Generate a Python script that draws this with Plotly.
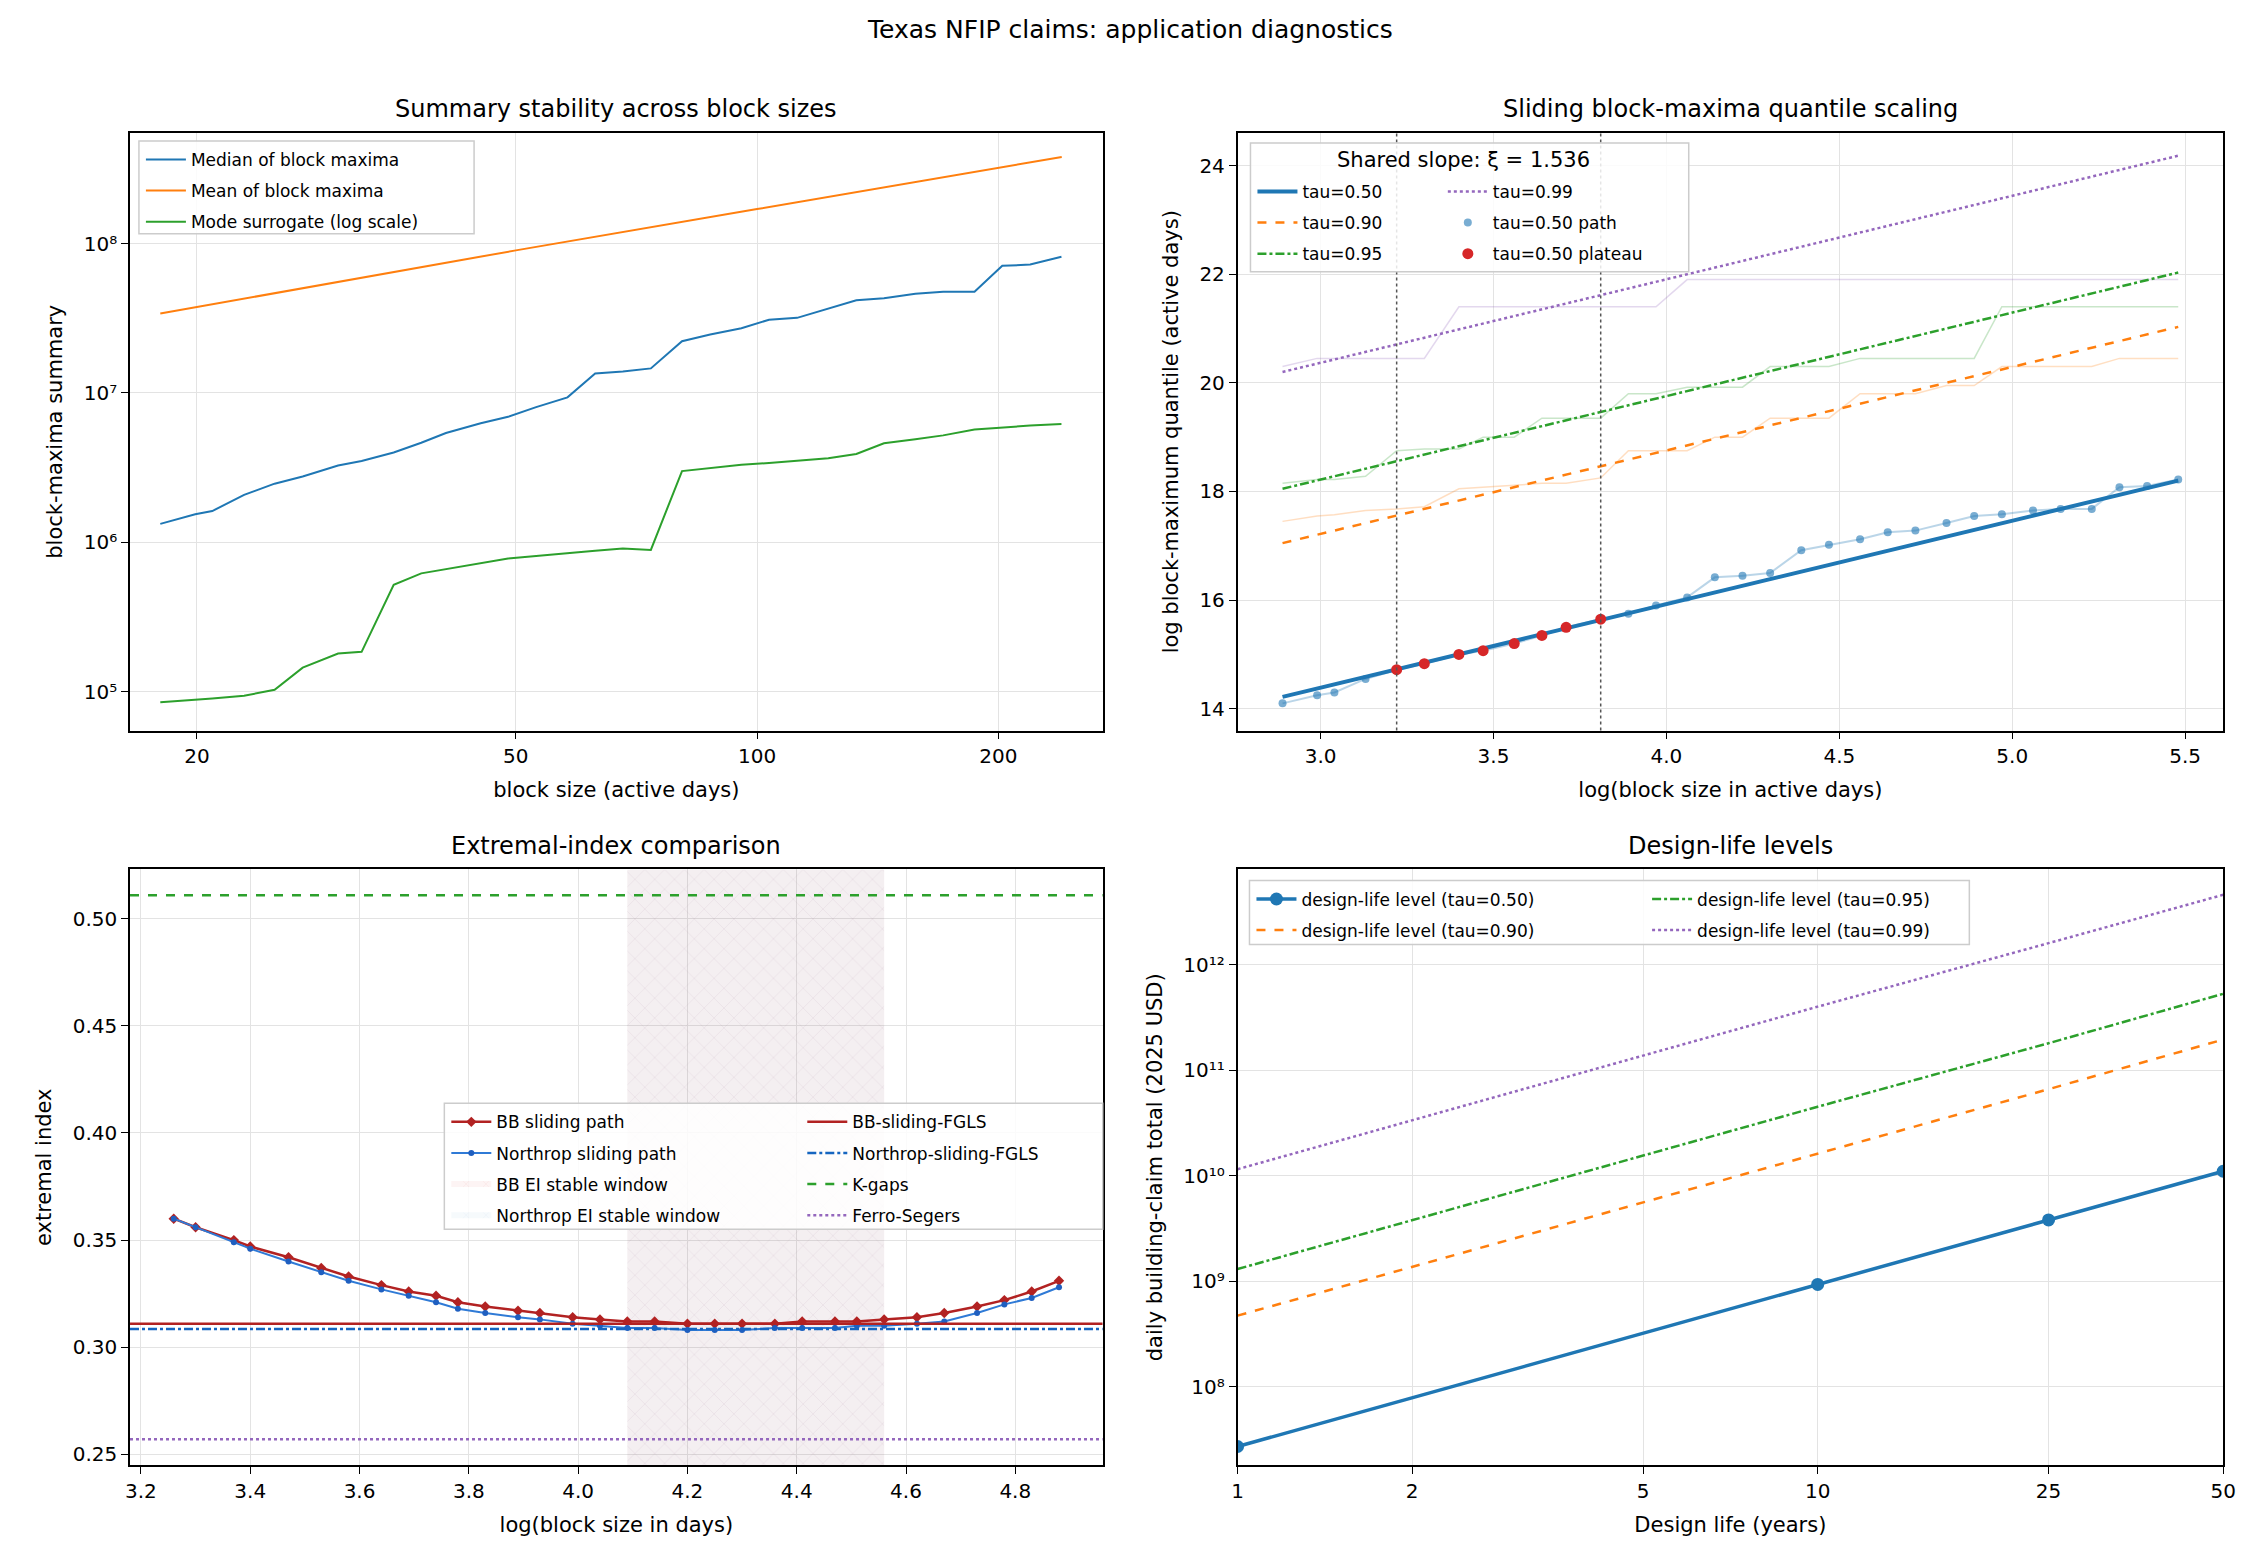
import numpy as np
import plotly.graph_objects as go
from plotly.subplots import make_subplots

# ---- data ----
log_block = [2.89, 2.99, 3.04, 3.13, 3.22, 3.30, 3.40, 3.47, 3.56, 3.64, 3.71, 3.81, 3.89, 3.97, 4.06, 4.14,
             4.22, 4.30, 4.39, 4.47, 4.56, 4.64, 4.72, 4.81, 4.89, 4.97, 5.06, 5.14, 5.23, 5.31, 5.39, 5.48]
block_size = [18, 19.9, 20.9, 22.9, 25, 27.1, 30, 32.1, 35.2, 38.1, 40.9, 45.2, 48.9, 53, 58, 62.8,
              68, 73.7, 80.6, 87.4, 95.6, 103.5, 112.2, 122.7, 133, 144, 157.6, 170.7, 186.8, 202.3, 219.2, 239.8]
median_bm = [1.33e6, 1.54e6, 1.62e6, 2.08e6, 2.47e6, 2.76e6, 3.27e6, 3.50e6, 3.99e6, 4.64e6, 5.39e6, 6.26e6,
             6.92e6, 8.04e6, 9.34e6, 1.35e7, 1.39e7, 1.46e7, 2.22e7, 2.46e7, 2.71e7, 3.09e7, 3.18e7, 3.66e7,
             4.17e7, 4.30e7, 4.61e7, 4.75e7, 4.75e7, 7.09e7, 7.23e7, 8.16e7]
mean_size = [18, 50, 100, 240]
mean_bm = [3.4e7, 9.0e7, 1.7e8, 3.8e8]
mode_bm = [8.5e4, 8.8e4, 9.0e4, 9.4e4, 1.03e5, 1.45e5, 1.8e5, 1.85e5, 5.2e5, 6.2e5, 6.6e5, 7.2e5, 7.8e5, 8.1e5,
           8.5e5, 8.8e5, 9.1e5, 8.9e5, 3.0e6, 3.15e6, 3.3e6, 3.4e6, 3.5e6, 3.65e6, 3.9e6, 4.6e6, 4.9e6, 5.2e6,
           5.7e6, 5.9e6, 6.05e6, 6.2e6]

path50 = [14.1, 14.25, 14.3, 14.55, 14.72, 14.83, 15.0, 15.07, 15.2, 15.35, 15.5, 15.65, 15.75, 15.9, 16.05, 16.42,
          16.45, 16.5, 16.92, 17.02, 17.12, 17.25, 17.28, 17.42, 17.55, 17.58, 17.65, 17.68, 17.68, 18.08, 18.1, 18.22]
path90 = [17.45, 17.55, 17.57, 17.65, 17.68, 17.72, 18.05, 18.08, 18.12, 18.15, 18.15, 18.25, 18.75, 18.75, 18.75, 19.0,
          19.0, 19.35, 19.35, 19.35, 19.8, 19.8, 19.8, 19.95, 19.95, 20.3, 20.3, 20.3, 20.3, 20.45, 20.45, 20.45]
path95 = [18.15, 18.22, 18.22, 18.28, 18.75, 18.78, 18.78, 19.0, 19.0, 19.35, 19.35, 19.35, 19.8, 19.8, 19.92, 19.92,
          19.92, 20.3, 20.3, 20.3, 20.45, 20.45, 20.45, 20.45, 20.45, 21.4, 21.4, 21.4, 21.4, 21.4, 21.4, 21.4]
path99 = [20.3, 20.45, 20.45, 20.45, 20.45, 20.45, 21.4, 21.4, 21.4, 21.4, 21.4, 21.4, 21.4, 21.4, 21.9, 21.9,
          21.9, 21.9, 21.9, 21.9, 21.9, 21.9, 21.9, 21.9, 21.9, 21.9, 21.9, 21.9, 21.9, 21.9, 21.9, 21.9]
fit_x = [2.89, 5.48]
fit50 = [14.22, 18.20]
fit90 = [17.05, 21.03]
fit95 = [18.05, 22.03]
fit99 = [20.20, 24.18]
plateau_lo, plateau_hi = 4, 12  # index range of plateau points
plateau_bounds = [3.22, 3.81]

ei_x = [3.26, 3.30, 3.37, 3.40, 3.47, 3.53, 3.58, 3.64, 3.69, 3.74, 3.78, 3.83, 3.89, 3.93, 3.99, 4.04,
        4.09, 4.14, 4.20, 4.25, 4.30, 4.36, 4.41, 4.47, 4.51, 4.56, 4.62, 4.67, 4.73, 4.78, 4.83, 4.88]
ei_bb = [0.360, 0.356, 0.350, 0.347, 0.342, 0.337, 0.333, 0.329, 0.326, 0.324, 0.321, 0.319, 0.317, 0.316, 0.314, 0.313,
         0.312, 0.312, 0.311, 0.311, 0.311, 0.311, 0.312, 0.312, 0.312, 0.313, 0.314, 0.316, 0.319, 0.322, 0.326, 0.331]
ei_nr = [0.360, 0.356, 0.349, 0.346, 0.340, 0.335, 0.331, 0.327, 0.324, 0.321, 0.318, 0.316, 0.314, 0.313, 0.311, 0.310,
         0.309, 0.309, 0.308, 0.308, 0.308, 0.309, 0.309, 0.309, 0.310, 0.310, 0.311, 0.312, 0.316, 0.320, 0.323, 0.328]
bb_fgls, nr_fgls, kgaps, ferro = 0.311, 0.3085, 0.511, 0.257
window = [4.09, 4.56]

design_life = [1, 10, 25, 50]
dl50 = [2.7e7, 9.3e8, 3.8e9, 1.1e10]
dl90 = [4.7e8, 1.6e10, 6.6e10, 1.95e11]
dl95 = [1.3e9, 4.5e10, 1.8e11, 5.3e11]
dl99 = [1.15e10, 4.0e11, 1.6e12, 4.6e12]

BLUE, ORANGE, GREEN, RED, PURPLE = "#1f77b4", "#ff7f0e", "#2ca02c", "#d62728", "#9467bd"
FONT = "DejaVu Sans"

fig = make_subplots(rows=2, cols=2, subplot_titles=("Summary stability across block sizes",
                                                    "Sliding block-maxima quantile scaling",
                                                    "Extremal-index comparison", "Design-life levels"))


def add(tr, r, c, rank=1000):
    # every legend entry gets its own group so tracegroupgap spaces the rows
    tr.update(legendgroup=tr.name or "", legendrank=rank)
    fig.add_trace(tr, row=r, col=c)


# ---- panel 1 ----
add(go.Scatter(x=block_size, y=median_bm, mode="lines", name="Median of block maxima",
               line=dict(color=BLUE, width=2), legend="legend"), 1, 1)
add(go.Scatter(x=mean_size, y=mean_bm, mode="lines", name="Mean of block maxima",
               line=dict(color=ORANGE, width=2), legend="legend"), 1, 1)
add(go.Scatter(x=block_size, y=mode_bm, mode="lines", name="Mode surrogate (log scale)",
               line=dict(color=GREEN, width=2), legend="legend"), 1, 1)

# ---- panel 2 ----
for p, c in [(path90, ORANGE), (path95, GREEN), (path99, PURPLE)]:
    fig.add_trace(go.Scatter(x=log_block, y=p, mode="lines", line=dict(color=c, width=1.5), opacity=0.25,
                             showlegend=False), row=1, col=2)
fig.add_trace(go.Scatter(x=log_block, y=path50, mode="lines", line=dict(color=BLUE, width=2), opacity=0.3,
                         showlegend=False), row=1, col=2)
add(go.Scatter(x=fit_x, y=fit50, mode="lines", name="tau=0.50", line=dict(color=BLUE, width=4),
               legend="legend2"), 1, 2)
add(go.Scatter(x=fit_x, y=fit90, mode="lines", name="tau=0.90",
               line=dict(color=ORANGE, width=2.5, dash="dash"), legend="legend2"), 1, 2)
add(go.Scatter(x=fit_x, y=fit95, mode="lines", name="tau=0.95",
               line=dict(color=GREEN, width=2.5, dash="dashdot"), legend="legend2"), 1, 2)
add(go.Scatter(x=fit_x, y=fit99, mode="lines", name="tau=0.99",
               line=dict(color=PURPLE, width=2.5, dash="dot"), legend="legend3"), 1, 2)
add(go.Scatter(x=log_block, y=path50, mode="markers", name="tau=0.50 path",
               marker=dict(color=BLUE, size=8, opacity=0.6), legend="legend3"), 1, 2)
add(go.Scatter(x=log_block[plateau_lo:plateau_hi], y=path50[plateau_lo:plateau_hi], mode="markers",
               name="tau=0.50 plateau", marker=dict(color=RED, size=11), legend="legend3"), 1, 2)
for xv in plateau_bounds:
    fig.add_shape(type="line", x0=xv, x1=xv, y0=0, y1=1, xref="x2", yref="y2 domain",
                  line=dict(color="#555555", width=1.5, dash="dot"))

# ---- panel 3 ----
yl = [0.245, 0.523]
wx = [window[0], window[1], window[1], window[0], window[0]]
wy = [yl[0], yl[0], yl[1], yl[1], yl[0]]
add(go.Scatter(x=wx, y=wy, fill="toself", mode="none", name="BB EI stable window", fillcolor="rgba(214,39,40,0.05)",
               fillpattern=dict(shape="x", fgcolor="rgba(214,39,40,0.22)", bgcolor="rgba(214,39,40,0.05)",
                                size=14, solidity=0.06),
               legend="legend4"), 2, 1, rank=1003)
add(go.Scatter(x=wx, y=wy, fill="toself", mode="none", name="Northrop EI stable window",
               fillcolor="rgba(31,119,180,0.05)",
               fillpattern=dict(shape="x", fgcolor="rgba(31,119,180,0.16)", bgcolor="rgba(31,119,180,0.04)",
                                size=14, solidity=0.06),
               legend="legend4"), 2, 1, rank=1004)
add(go.Scatter(x=ei_x, y=ei_bb, mode="lines+markers", name="BB sliding path",
               line=dict(color="#b22222", width=2.5), marker=dict(symbol="diamond", size=8),
               legend="legend4"), 2, 1, rank=1001)
add(go.Scatter(x=ei_x, y=ei_nr, mode="lines+markers", name="Northrop sliding path",
               line=dict(color="#2f7ad6", width=2), marker=dict(size=6, color="#1f5fc0"),
               legend="legend4"), 2, 1, rank=1002)
for v, nm, c, d in [(bb_fgls, "BB-sliding-FGLS", "#b22222", "solid"),
                    (nr_fgls, "Northrop-sliding-FGLS", "#1565c0", "dashdot"),
                    (kgaps, "K-gaps", GREEN, "dash"), (ferro, "Ferro-Segers", PURPLE, "dot")]:
    add(go.Scatter(x=[3.18, 4.96], y=[v, v], mode="lines", name=nm, line=dict(color=c, width=2.5, dash=d),
                   legend="legend5"), 2, 1)

# ---- panel 4 ----
add(go.Scatter(x=design_life, y=dl50, mode="lines+markers", name="design-life level (tau=0.50)",
               line=dict(color=BLUE, width=3.5), marker=dict(size=13), legend="legend6"), 2, 2)
add(go.Scatter(x=design_life, y=dl90, mode="lines", name="design-life level (tau=0.90)",
               line=dict(color=ORANGE, width=2.5, dash="dash"), legend="legend6"), 2, 2)
add(go.Scatter(x=design_life, y=dl95, mode="lines", name="design-life level (tau=0.95)",
               line=dict(color=GREEN, width=2.5, dash="dashdot"), legend="legend7"), 2, 2)
add(go.Scatter(x=design_life, y=dl99, mode="lines", name="design-life level (tau=0.99)",
               line=dict(color=PURPLE, width=2.5, dash="dot"), legend="legend7"), 2, 2)

W, H = 2250, 1567
px = lambda v: v / W
py = lambda v: 1 - v / H
dom = {"x": [px(117), px(1098)], "x2": [px(1234), px(2228)], "yt": [py(723), py(125)], "yb": [py(1458), py(862)]}

ax = dict(showline=True, linecolor="black", linewidth=1.5, mirror=True, ticks="outside", ticklen=7,
          tickcolor="black", showgrid=True, gridcolor="#e3e3e3", zeroline=False,
          tickfont=dict(size=20, color="black"), title_font=dict(size=21, color="black"))
sup = {8: "⁸", 9: "⁹", 10: "¹⁰", 11: "¹¹", 12: "¹²", 5: "⁵", 6: "⁶", 7: "⁷"}

fig.update_xaxes(**ax)
fig.update_yaxes(**ax)
fig.update_xaxes(row=1, col=1, type="log", range=[np.log10(16.5), np.log10(270)], tickvals=[20, 50, 100, 200],
                 title_text="block size (active days)", domain=dom["x"])
fig.update_yaxes(row=1, col=1, type="log", range=[np.log10(5.5e4), np.log10(5.5e8)],
                 tickvals=[1e5, 1e6, 1e7, 1e8], ticktext=["10" + sup[k] for k in [5, 6, 7, 8]],
                 title_text="block-maxima summary", domain=dom["yt"])
fig.update_xaxes(row=1, col=2, range=[2.76, 5.61], dtick=0.5, tickformat=".1f",
                 title_text="log(block size in active days)", domain=dom["x2"])
fig.update_yaxes(row=1, col=2, range=[13.6, 24.6], dtick=2, title_text="log block-maximum quantile (active days)",
                 domain=dom["yt"])
fig.update_xaxes(row=2, col=1, range=[3.18, 4.96], dtick=0.2, tickformat=".1f",
                 title_text="log(block size in days)", domain=dom["x"])
fig.update_yaxes(row=2, col=1, range=yl, dtick=0.05, tickformat=".2f", title_text="extremal index",
                 domain=dom["yb"])
fig.update_xaxes(row=2, col=2, type="log", range=[0, np.log10(50)], tickvals=[1, 2, 5, 10, 25, 50],
                 title_text="Design life (years)", domain=dom["x2"])
fig.update_yaxes(row=2, col=2, type="log", range=[np.log10(1.8e7), np.log10(8e12)],
                 tickvals=[1e8, 1e9, 1e10, 1e11, 1e12], ticktext=["10" + sup[k] for k in [8, 9, 10, 11, 12]],
                 title_text="daily building-claim total (2025 USD)", domain=dom["yb"])

# subplot titles position
for ann, (xc, yc) in zip(fig.layout.annotations, [(607, 101), (1731, 101), (607, 839), (1731, 839)]):
    ann.update(x=px(xc), y=py(yc), yanchor="middle", font=dict(size=24, color="black", family=FONT))
fig.add_annotation(text="Texas NFIP claims: application diagnostics", x=0.5, y=py(22), xref="paper", yref="paper",
                   yanchor="middle", showarrow=False, font=dict(size=25, color="black"))
fig.add_annotation(text="Shared slope: ξ = 1.536", x=px(1462), y=py(152), xref="paper", yref="paper",
                   yanchor="middle", showarrow=False, font=dict(size=21, color="black"))

lg = dict(bgcolor="rgba(0,0,0,0)", font=dict(size=17, color="black"), tracegroupgap=6,
          xanchor="left", yanchor="top", itemwidth=40)
boxes = [(126, 133, 464, 226), (1247, 135, 1689, 264), (434, 1096, 1098, 1222), (1246, 873, 1972, 937)]
for x0, y0, x1, y1 in boxes:
    fig.add_shape(type="rect", xref="paper", yref="paper", x0=px(x0), x1=px(x1), y0=py(y0), y1=py(y1),
                  line=dict(color="#cccccc", width=1.5), fillcolor="rgba(255,255,255,0.85)", layer="above")
fig.update_layout(
    width=W, height=H, margin=dict(l=0, r=0, t=0, b=0), plot_bgcolor="white", paper_bgcolor="white",
    font=dict(family=FONT, color="black"),
    legend=dict(lg, x=px(128), y=py(134)),
    legend2=dict(lg, x=px(1249), y=py(166)),
    legend3=dict(lg, x=px(1441), y=py(166)),
    legend4=dict(lg, x=px(436), y=py(1097)),
    legend5=dict(lg, x=px(795), y=py(1097)),
    legend6=dict(lg, x=px(1248), y=py(874)),
    legend7=dict(lg, x=px(1647), y=py(874)),
)
fig.write_html("out.html")
